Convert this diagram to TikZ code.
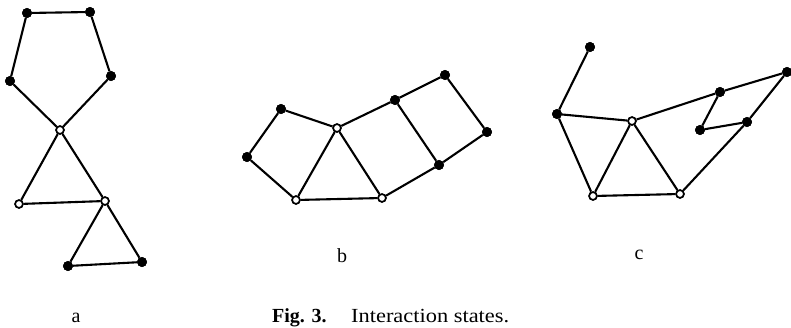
\documentclass[tikz,border=0pt]{standalone}
\usepackage{fontspec}
\setmainfont{Liberation Serif}
\tikzset{
  full/.style={circle,fill=black,draw=black,inner sep=0pt,minimum size=9.6pt},
  hollow/.style={circle,fill=white,draw=black,line width=1.5pt,inner sep=0pt,minimum size=8pt},
  edge/.style={line width=2.1pt,black},
  lbl/.style={anchor=base,font=\fontsize{20}{24}\selectfont,inner sep=0pt}
}
\begin{document}
\begin{tikzpicture}[x=1pt,y=-1pt]
\useasboundingbox (0,0) rectangle (791,327);
% ---- a ----
\node[full] (P1) at (27,13) {};
\node[full] (P2) at (90,12) {};
\node[full] (P3) at (111,76) {};
\node[full] (P4) at (10,81) {};
\node[hollow] (O1) at (60,130) {};
\node[hollow] (O2) at (19,204) {};
\node[hollow] (O3) at (105,201) {};
\node[full] (B1) at (68,266) {};
\node[full] (B2) at (142,262) {};
% ---- b ----
\node[full] (b1) at (281,109) {};
\node[full] (b2) at (247,157) {};
\node[hollow] (Ob1) at (337,128) {};
\node[hollow] (Ob2) at (296,200) {};
\node[hollow] (Ob3) at (382,198) {};
\node[full] (b3) at (395,100) {};
\node[full] (b4) at (445,75) {};
\node[full] (b5) at (487,132) {};
\node[full] (b6) at (439,165) {};
% ---- c ----
\node[full] (c1) at (590,47) {};
\node[full] (c2) at (557,114) {};
\node[hollow] (Oc1) at (632,121) {};
\node[hollow] (Oc2) at (593,196) {};
\node[hollow] (Oc3) at (680,194) {};
\node[full] (c3) at (720,92) {};
\node[full] (c4) at (787,72) {};
\node[full] (c5) at (700,130) {};
\node[full] (c6) at (747,122) {};
% edges a
\draw[edge] (P1) -- (P2) (P2) -- (P3) (P3) -- (O1) (O1) -- (P4) (P4) -- (P1)
  (O1) -- (O2) (O1) -- (O3) (O2) -- (O3) (O3) -- (B1) (O3) -- (B2) (B1) -- (B2);
% edges b
\draw[edge] (b1) -- (Ob1) (b1) -- (b2) (b2) -- (Ob2) (Ob2) -- (Ob1) (Ob1) -- (Ob3)
  (Ob2) -- (Ob3) (Ob1) -- (b3) (b3) -- (b4) (b4) -- (b5) (b5) -- (b6) (b6) -- (b3) (b6) -- (Ob3);
% edges c
\draw[edge] (c1) -- (c2) (c2) -- (Oc1) (c2) -- (Oc2) (Oc1) -- (Oc2) (Oc1) -- (Oc3)
  (Oc2) -- (Oc3) (Oc1) -- (c3) (c3) -- (c4) (c4) -- (c6) (c6) -- (Oc3) (c3) -- (c5) (c5) -- (c6);
% nodes drawn again on top of the edges
\foreach \n in {P1,P2,P3,P4,B1,B2,b1,b2,b3,b4,b5,b6,c1,c2,c3,c4,c5,c6}
  \fill (\n) circle (4.8pt);
\foreach \n in {O1,O2,O3,Ob1,Ob2,Ob3,Oc1,Oc2,Oc3}
  \filldraw[fill=white,draw=black,line width=1.5pt] (\n) circle (3.8pt);
% labels
\node[lbl] (la) at (76,322) {a};
\node[lbl] (lb) at (342,262) {b};
\node[lbl] (lc) at (639,259) {c};
\node[lbl,anchor=base west] (fig) at (272,322) {\textbf{Fig. 3.}};
\node[lbl,anchor=base west] (cap) at (351,322) {\scalebox{1.12}[1]{Interaction states.}};
\end{tikzpicture}
\end{document}
